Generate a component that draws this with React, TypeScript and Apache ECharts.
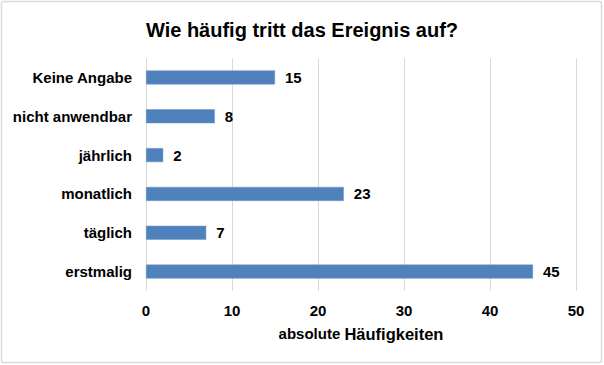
import React, { useEffect, useRef } from "react";
import * as echarts from "echarts";

const categories = ["erstmalig", "täglich", "monatlich", "jährlich", "nicht anwendbar", "Keine Angabe"];
const values = [45, 7, 23, 2, 8, 15];
const title = "Wie häufig tritt das Ereignis auf?";

export default function App() {
  const ref = useRef<HTMLDivElement>(null);
  useEffect(() => {
    document.body.style.margin = "0";
    const chart = echarts.init(ref.current!, null, { renderer: "svg" });
    chart.setOption({
      animation: false,
      backgroundColor: "#ffffff",
      textStyle: { fontFamily: "Liberation Sans, Arial, sans-serif" },
      title: {
        text: title,
        left: "center",
        top: 15,
        textStyle: { fontSize: 20, fontWeight: "bold", color: "#000" },
      },
      graphic: [
        {
          type: "rect",
          shape: { x: 1.5, y: 1.5, width: 600, height: 361, r: 2 },
          style: { fill: "none", stroke: "#d9d9d9", lineWidth: 1.5 },
          silent: true,
        },
      ],
      grid: { left: 146, right: 28, top: 58, bottom: 74, containLabel: false },
      xAxis: {
        type: "value",
        min: 0,
        max: 50,
        interval: 10,
        axisLine: { show: false },
        axisTick: { show: false },
        splitLine: { show: true, lineStyle: { color: "#d9d9d9", width: 1 } },
        axisLabel: { fontSize: 15, fontWeight: "bold", color: "#000", margin: 12 },
        name: "{a|absolute }{b|Häufigkeiten}",
        nameLocation: "middle",
        nameGap: 34,
        nameTextStyle: {
          rich: {
            a: { fontSize: 15, fontWeight: "bold", color: "#000" },
            b: { fontSize: 16.5, fontWeight: "bold", color: "#000" },
          },
        },
      },
      yAxis: {
        type: "category",
        data: categories,
        axisLine: { show: false },
        axisTick: { show: false },
        splitLine: { show: false },
        axisLabel: { fontSize: 15, fontWeight: "bold", color: "#000", margin: 14 },
      },
      series: [
        {
          type: "bar",
          data: values,
          barWidth: 14,
          itemStyle: { color: "#4f81bd", borderColor: "#6f97c9", borderWidth: 0.5 },
          label: {
            show: true,
            position: "right",
            distance: 10,
            fontSize: 15,
            fontWeight: "bold",
            color: "#000",
          },
        },
      ],
    });
    return () => chart.dispose();
  }, []);
  return <div ref={ref} style={{ width: 604, height: 365 }} />;
}
